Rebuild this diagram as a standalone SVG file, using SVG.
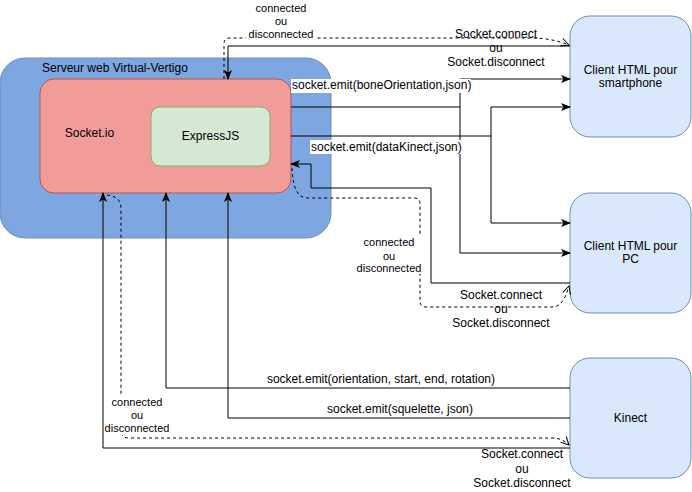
<svg xmlns="http://www.w3.org/2000/svg" width="692" height="492" viewBox="0 0 692 492">
<style>
text{font-family:"Liberation Sans",Arial,sans-serif;fill:#000}
.t12{font-size:12px}
.t11{font-size:11px}
.mid{text-anchor:middle}
.solid{fill:none;stroke:#000;stroke-width:1}
.dash{fill:none;stroke:#000;stroke-width:1;stroke-dasharray:3,3}
.bg{fill:#fff}
.client{fill:#DAE8FC;stroke:#6C8EBF;stroke-width:1}
</style>
<defs>
<marker id="fa" viewBox="0 0 10 8" refX="9" refY="4" markerWidth="10" markerHeight="8" markerUnits="userSpaceOnUse" orient="auto">
<path d="M0,0 L10,4 L0,8 L2.5,4 z" fill="#000"/>
</marker>
<marker id="oa" viewBox="0 0 10 10" refX="9" refY="5" markerWidth="10" markerHeight="10" markerUnits="userSpaceOnUse" orient="auto">
<path d="M1,1 L9,5 L1,9" fill="none" stroke="#000" stroke-width="1"/>
</marker>
</defs>
<rect width="692" height="492" fill="#fff"/>
<g id="server">
<rect x="0" y="58" width="331" height="180" rx="25" ry="25" fill="#7EA6E0" stroke="#6C8EBF"/>
<text class="t12" x="42" y="72">Serveur web Virtual-Vertigo</text>
</g>
<g id="socketio">
<rect x="40" y="79" width="251" height="114" rx="14" ry="14" fill="#F19C99" stroke="#B85450"/>
<text class="t12 mid" x="89.5" y="137">Socket.io</text>
</g>
<g id="expressjs">
<rect x="151" y="107" width="119" height="59" rx="9" ry="9" fill="#D5E8D4" stroke="#82B366"/>
<text class="t12 mid" x="210.5" y="140">ExpressJS</text>
</g>
<g id="smartphone">
<rect class="client" x="570" y="16" width="121" height="121" rx="20" ry="20"/>
<text class="t12 mid" x="630.5" y="74">Client HTML pour</text>
<text class="t12 mid" x="630.5" y="87">smartphone</text>
</g>
<g id="pc">
<rect class="client" x="570" y="193" width="121" height="120" rx="20" ry="20"/>
<text class="t12 mid" x="630.5" y="250">Client HTML pour</text>
<text class="t12 mid" x="630.5" y="263">PC</text>
</g>
<g id="kinect">
<rect class="client" x="570" y="358" width="121" height="120" rx="20" ry="20"/>
<text class="t12 mid" x="630.5" y="422">Kinect</text>
</g>
<g id="connectors">
<!-- smartphone <-> socket.io top -->
<path class="solid" d="M570,46 L228,46 L228,79" marker-end="url(#fa)"/>
<path class="dash" d="M224,79 L224,44 Q224,38 230,38 L530,38 C548,38 558,41 569,45" marker-end="url(#oa)"/>
<!-- boneOrientation -->
<path class="solid" d="M291,107 L460,107 L460,79 L570,79" marker-end="url(#fa)"/>
<path class="solid" d="M460,107 L460,253 L570,253" marker-end="url(#fa)"/>
<!-- dataKinect -->
<path class="solid" d="M291,136 L491,136 L491,107 L570,107" marker-end="url(#fa)"/>
<path class="solid" d="M491,136 L491,223 L570,223" marker-end="url(#fa)"/>
<!-- PC -> socket.io -->
<path class="solid" d="M570,283 L431,283 L431,188 L311,188 L311,164 L291,164" marker-end="url(#fa)"/>
<path class="dash" d="M292,168 C293,190 298,198 308,198 L414,198 Q420,198 420,204 L420,301 Q420,307 426,307 L552,307 C562,307 566,296 569,286" marker-end="url(#oa)"/>
<!-- Kinect -> socket.io -->
<path class="solid" d="M570,388 L166,388 L166,193" marker-end="url(#fa)"/>
<path class="solid" d="M570,418 L228,418 L228,193" marker-end="url(#fa)"/>
<path class="solid" d="M570,448 L103,448 L103,193" marker-end="url(#fa)"/>
<path class="dash" d="M107,195 C116,196 121,200 121,208 L121,430 Q121,438 129,438 L552,438 C560,438 565,441 569,445" marker-end="url(#oa)"/>
<!-- labels -->
<rect class="bg" x="246" y="1" width="70" height="40"/>
<text class="t11 mid" x="281" y="12">connected</text>
<text class="t11 mid" x="281" y="25">ou</text>
<text class="t11 mid" x="281" y="38">disconnected</text>
<text class="t12 mid" x="496" y="38">Socket.connect</text>
<text class="t12 mid" x="496" y="52">ou</text>
<text class="t12 mid" x="496" y="66">Socket.disconnect</text>
<rect class="bg" x="291" y="79" width="180" height="14"/>
<text class="t12" x="292" y="89">socket.emit(boneOrientation,json)</text>
<rect class="bg" x="310" y="140" width="151" height="14"/>
<text class="t12" x="311" y="151">socket.emit(dataKinect,json)</text>
<rect class="bg" x="355" y="236" width="68" height="38"/>
<text class="t11 mid" x="389" y="246">connected</text>
<text class="t11 mid" x="389" y="260">ou</text>
<text class="t11 mid" x="389" y="272">disconnected</text>
<text class="t12 mid" x="501" y="299">Socket.connect</text>
<text class="t12 mid" x="501" y="313">ou</text>
<text class="t12 mid" x="501" y="327">Socket.disconnect</text>
<text class="t12 mid" x="381" y="383">socket.emit(orientation, start, end, rotation)</text>
<text class="t12 mid" x="400" y="413">socket.emit(squelette, json)</text>
<rect class="bg" x="104" y="395" width="67" height="40"/>
<text class="t11 mid" x="137" y="406">connected</text>
<text class="t11 mid" x="137" y="419">ou</text>
<text class="t11 mid" x="137" y="432">disconnected</text>
<text class="t12 mid" x="522" y="458">Socket.connect</text>
<text class="t12 mid" x="522" y="473">ou</text>
<text class="t12 mid" x="522" y="487">Socket.disconnect</text>
</g>
</svg>
